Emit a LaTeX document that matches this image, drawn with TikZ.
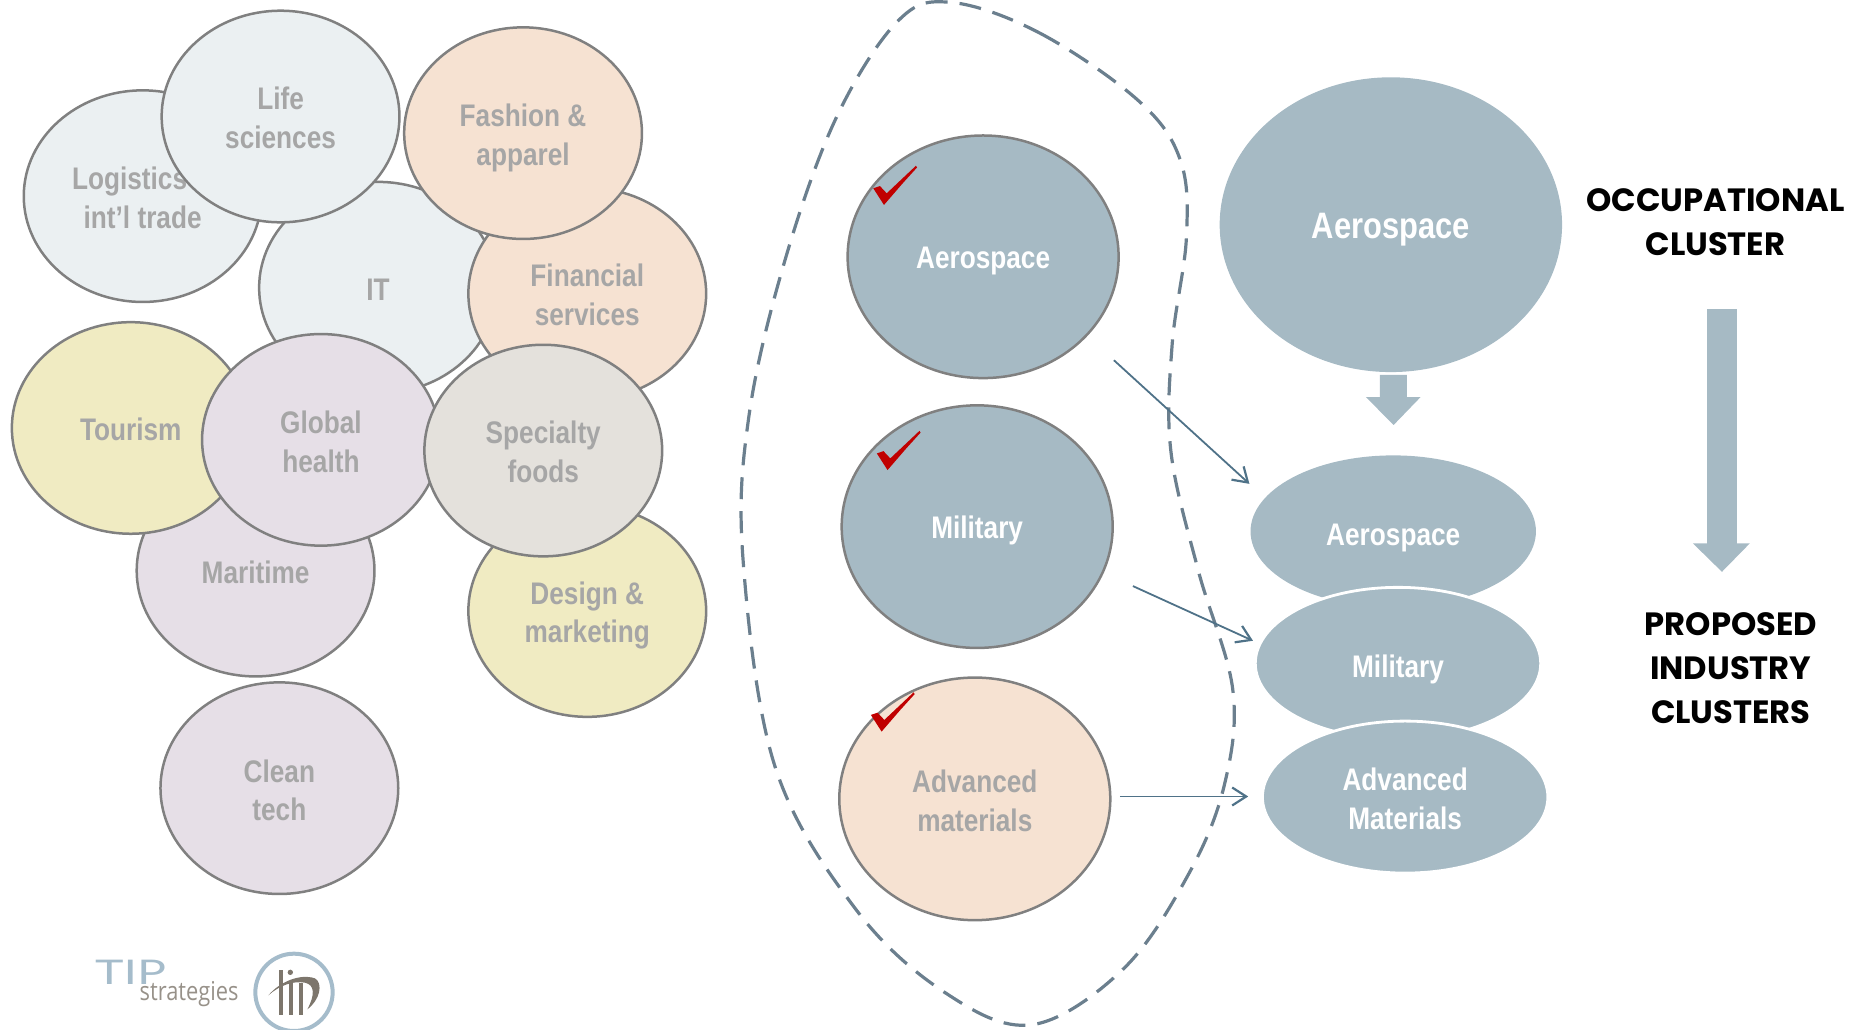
\documentclass[tikz,border=0pt]{standalone}
\usepackage{fontspec}
\usetikzlibrary{shapes.geometric,arrows.meta}
\newfontfamily\narfont[FakeStretch=0.84]{Liberation Sans}
\newfontfamily\headfont{Poppins}
\newfontfamily\logowide[FakeStretch=1.42]{Lato}
\newfontfamily\logonarrow[FakeStretch=0.84]{Open Sans}
\definecolor{steel}{HTML}{A6BAC4}
\definecolor{cblue}{HTML}{EBF0F2}
\definecolor{cpeach}{HTML}{F6E2D2}
\definecolor{cyellow}{HTML}{F0EBC2}
\definecolor{clilac}{HTML}{E6DFE7}
\definecolor{cgray}{HTML}{E4E1DC}
\definecolor{txtgray}{HTML}{A6A6A6}
\definecolor{rimgray}{HTML}{808080}
\definecolor{dashcol}{HTML}{6B7F8E}
\definecolor{arrcol}{HTML}{4F7288}
\definecolor{chkred}{HTML}{C00000}
\definecolor{logoblue}{HTML}{A5BCCB}
\definecolor{logobrown}{HTML}{7D766C}
\tikzset{
  bub/.style={ellipse,draw=rimgray,line width=1.25pt,inner sep=0pt,align=center,
    font=\narfont\bfseries\fontsize{15.6}{19.4}\selectfont},
  leftbub/.style={bub,minimum width=118.9pt,minimum height=105.8pt,text=txtgray},
  midbub/.style={bub,minimum width=135.5pt,minimum height=121.3pt},
  smallbub/.style={ellipse,fill=steel,inner sep=0pt,align=center,text=white,
    minimum width=142.7pt,minimum height=76pt,
    font=\narfont\bfseries\fontsize{15.6}{19.4}\selectfont},
  flow/.style={draw=arrcol,line width=0.9pt,-{Straight Barb[length=7pt,width=9pt,line width=1.1pt]}},
  headtxt/.style={align=center,text=black,font=\headfont\bfseries\fontsize{16.1}{22}\selectfont},
  bluearrow/.style={fill=steel,draw=none},
  chkmark/.style={fill=chkred,draw=none}
}
\newcommand{\dn}[1]{\rule{0pt}{\dimexpr12pt+2\dimexpr#1pt\relax\relax}}
\newcommand{\chkat}[2]{\fill[chkmark] (#1,#2) -- ++(5.6,-1.9) -- ++(5.7,6.1) -- ++(24.6,-23.2) -- ++(0.9,1.5) -- ++(-11.8,13) -- ++(-16,18.5) -- cycle;}
\begin{document}
\begin{tikzpicture}[x=0.5944pt,y=-0.5944pt]
\useasboundingbox (0,0) rectangle (1568,865.6);
\clip (0,0) rectangle (1568,865.6);
% left cluster
\node[leftbub,fill=cblue] (logi) at (120,165) {\dn{0.45}Logistics \&\\int’l trade};
\node[leftbub,fill=cblue] (it) at (318,242) {\dn{0.45}IT};
\node[leftbub,fill=cblue] (life) at (236,98) {\dn{0.45}Life\\sciences};
\node[leftbub,fill=cpeach] (fin) at (494,247) {\dn{0.15}Financial\\services};
\node[leftbub,fill=cpeach] (fash) at (440,112) {\dn{1.9}Fashion \&\\apparel};
\node[leftbub,fill=clilac] (mari) at (215,480) {\dn{0.45}Maritime};
\node[leftbub,fill=cyellow] (tour) at (110,360) {\dn{0.15}Tourism};
\node[leftbub,fill=clilac] (glob) at (270,370) {\dn{0.75}Global\\health};
\node[leftbub,fill=cyellow] (desi) at (494,514) {\dn{1.9}Design \&\\marketing};
\node[leftbub,fill=cgray] (spec) at (457,379) {\dn{0.15}Specialty\\foods};
\node[leftbub,fill=clilac] (clean) at (235,663) {\dn{0.75}Clean\\tech};
% dashed outline
\draw[dashcol,line width=1.6pt,dash pattern=on 11pt off 6pt]
  plot[smooth cycle,tension=0.6] coordinates {(800,2) (875,28) (958,85) (993,135) (998,200) (986,290) (985,380) (1008,480) (1037,580) (1030,660) (1000,735) (945,815) (868,862) (795,835) (720,765) (652,645) (625,470) (630,350) (660,220) (703,100) (755,18)};
% middle column
\node[midbub,fill=steel,text=white] (maero) at (827,216) {\dn{1.7}Aerospace};
\node[midbub,fill=steel,text=white] (mmil) at (822,443) {\dn{1.7}Military};
\node[midbub,fill=cpeach,text=txtgray] (madv) at (820,672) {\dn{0.75}Advanced\\materials};
\chkat{734.6}{158.4}
\chkat{737.6}{381.4}
\chkat{732.6}{601.4}
% right column
\node[ellipse,fill=steel,inner sep=0pt,text=white,minimum width=171.2pt,minimum height=147.4pt,
  font=\narfont\bfseries\fontsize{18.4}{22}\selectfont] (baero) at (1170,189) {\rule{0pt}{18pt}Aerospace};
\node[smallbub] (saero) at (1172,447) {\dn{2.8}Aerospace};
\node[smallbub,draw=white,line width=1.4pt] (smil) at (1176,558) {\dn{2.5}Military};
\node[smallbub,draw=white,line width=1.4pt] (sadv) at (1182,670.5) {\dn{0.45}Advanced\\Materials};
% connectors
\coordinate (a1) at (937,303); \coordinate (b1) at (1051,407);
\coordinate (a2) at (953,493); \coordinate (b2) at (1054,539);
\coordinate (a3) at (942,670); \coordinate (b3) at (1050,670);
\draw[flow] (a1) -- (b1);
\draw[flow] (a2) -- (b2);
\draw[flow] (a3) -- (b3);
% block arrows
\fill[bluearrow] (1160.8,315.4) -- (1183.5,315.4) -- (1183.5,334) -- (1195,334) -- (1172.3,357.5) -- (1149,334) -- (1160.8,334) -- cycle;
\fill[bluearrow] (1436,260) -- (1461,260) -- (1461,457) -- (1472,457) -- (1448.5,481) -- (1424,457) -- (1436,457) -- cycle;
% headings
\node[headtxt] (occ) at (1443,186.5) {OCCUPATIONAL\\CLUSTER};
\node[headtxt] (prop) at (1456,562) {PROPOSED\\INDUSTRY\\CLUSTERS};
% logo
\begin{scope}[shift={(50.47,773.9)},x=0.16667pt,y=-0.16667pt]
  \node[anchor=west,inner sep=0pt,text=logoblue,font=\logowide\fontsize{17}{17}\selectfont] (tip) at (104,158) {TIP};
  \node[anchor=west,inner sep=0pt,text=logobrown!80,font=\logonarrow\fontsize{13}{13}\selectfont] (strat) at (238,222) {strategies};
  \draw[logoblue,line width=2pt] (702,217) circle[radius=116];
  \fill[logobrown] (656,150) rectangle (670,285);
  \fill[logobrown] (686,190) rectangle (700,285);
  \fill[logobrown] (716,190) rectangle (730,285);
  \fill[logobrown] (691,157) circle[radius=8];
  \fill[logobrown] (625,226) .. controls (660,185) and (720,160) .. (765,175) .. controls (790,190) and (780,240) .. (742,268) .. controls (765,225) and (765,195) .. (735,188) .. controls (700,182) and (660,195) .. cycle;
\end{scope}
\end{tikzpicture}
\end{document}
